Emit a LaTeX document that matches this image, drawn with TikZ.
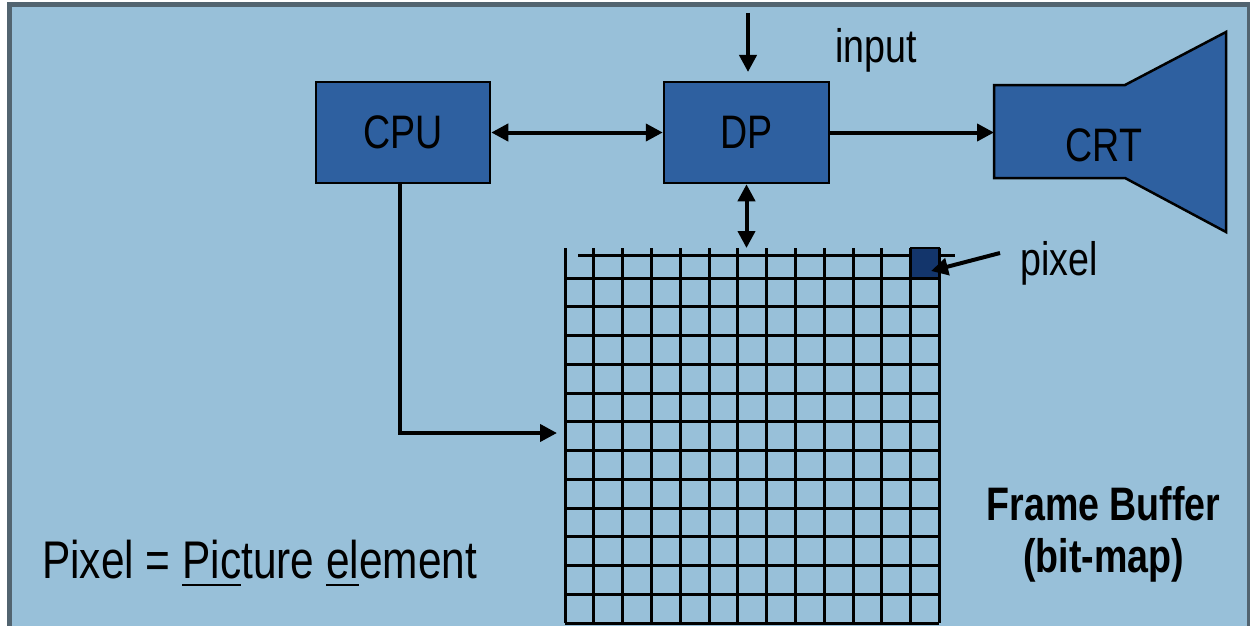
\documentclass[tikz,border=0pt]{standalone}
\usepackage{fontspec}
\setmainfont{Liberation Sans}[FakeStretch=0.8]
\newcommand{\myul}[1]{\setbox0\hbox{#1}\rlap{\rule[-8pt]{\wd0}{2pt}}\box0}
\usetikzlibrary{arrows.meta}
\definecolor{bgblue}{RGB}{152,192,217}
\definecolor{boxblue}{RGB}{46,96,160}
\definecolor{pixnavy}{RGB}{19,53,107}
\definecolor{framegray}{RGB}{82,100,112}
\tikzset{
  blk/.style={draw=black, line width=2.5pt, fill=boxblue, inner sep=0pt,
    minimum height=101pt, font=\fontsize{47}{52}\selectfont},
  lbl/.style={inner sep=0pt, font=\fontsize{47}{52}\selectfont},
  arr/.style={line width=4pt, -{Triangle[length=17pt,width=17pt]}},
  dbl/.style={line width=4pt, {Triangle[length=17pt,width=17pt]}-{Triangle[length=17pt,width=17pt]}},
  gridline/.style={line width=3pt, draw=black},
  ghost/.style={inner sep=0pt, outer sep=0pt}
}
\begin{document}
\begin{tikzpicture}[x=1pt, y=-1pt]
\useasboundingbox (0,0) rectangle (1250,626);
\fill[white] (0,0) rectangle (1250,626);
\fill[framegray] (7,2) rectangle (1250,626);
\fill[bgblue] (12,7) rectangle (1247,626);

% frame buffer grid
\foreach \i in {0,...,13} \draw[gridline] ({565+28.8*\i},248) -- ({565+28.8*\i},623);
\foreach \j in {0,...,12} \draw[gridline] (565,{278+28.75*\j}) -- (939.4,{278+28.75*\j});
\draw[gridline] (578,255) -- (955,255);
\node[ghost, minimum width=374.4pt, minimum height=375pt] (fb) at (752.2,435.5) {};
\node[draw=black, line width=2pt, fill=pixnavy, inner sep=0pt,
      minimum width=28.8pt, minimum height=30pt] (pix) at (925,263) {};

% boxes
\node[blk, minimum width=174pt] (cpu) at (403,132.5) {CPU};
\node[blk, minimum width=165pt] (dp) at (746.5,132.5) {DP};

% CRT
\draw[line width=2.5pt, fill=boxblue, line join=miter]
  (994,85) -- (1125,85) -- (1226,32) -- (1226,232) -- (1125,178) -- (994,178) -- cycle;
\node[ghost, minimum width=131pt, minimum height=93pt] (crt) at (1059.5,131.5) {};
\node[lbl] (crtl) at (1104,145) {CRT};

% connectors
\coordinate (instart) at (748,13);
\coordinate (inend) at (748,72);
\draw[arr] (instart) -- (inend);
\draw[dbl] (cpu.east) -- (dp.west);
\draw[arr] (dp.east) -- (dp.east -| crt.west);
\draw[dbl] (dp.south) -- (dp.south |- fb.north);
\coordinate (cpuend) at (557,433);
\draw[arr] ([xshift=-3pt]cpu.south) |- (cpuend);
\coordinate (pxstart) at (1000,253);
\coordinate (pxend) at (931,271);
\draw[arr] (pxstart) -- (pxend);

% labels
\node[lbl, anchor=base west] (inlbl) at (835,63) {input};
\node[lbl, anchor=base west] (pxlbl) at (1020,275) {pixel};
\node[inner sep=0pt, anchor=base west, font=\fontsize{53}{58}\selectfont] (def) at (42,578)
  {Pixel = \myul{Pic}ture \myul{el}ement};
\node[lbl, anchor=base, font=\fontsize{47}{52}\selectfont\bfseries] (fb1) at (1103.5,520) {Frame Buffer};
\node[lbl, anchor=base, font=\fontsize{47}{52}\selectfont\bfseries] (fb2) at (1103.5,572) {(bit-map)};
\end{tikzpicture}
\end{document}
